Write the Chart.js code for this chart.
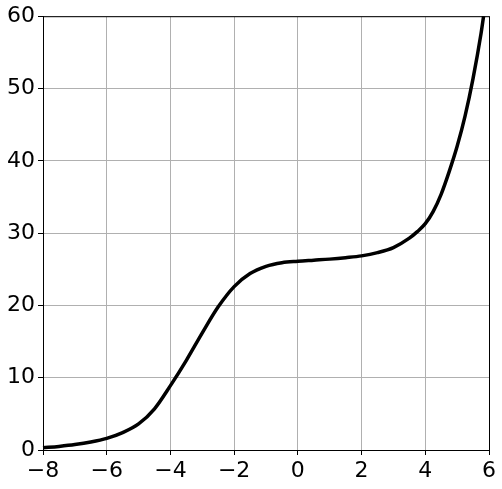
<!DOCTYPE html>
<html>
<head>
<meta charset="utf-8">
<script src="https://cdn.jsdelivr.net/npm/chart.js@4/dist/chart.umd.min.js"></script>
<style>
  html, body { margin: 0; padding: 0; background: #fff; }
  #wrap { width: 502px; height: 489px; }
</style>
</head>
<body>
<div id="wrap"><canvas id="curveChart" width="502" height="489"></canvas></div>
<script>
// values
const xValues = [-8, -7.5, -7, -6.5, -6, -5.5, -5, -4.5, -4, -3.5, -3, -2.5, -2, -1.5, -1, -0.5, 0, 0.5, 1, 1.5, 2, 2.5, 3, 3.5, 3.75, 4, 4.25, 4.5, 4.75, 5, 5.25, 5.5, 5.75, 5.83];
const yValues = [0.3, 0.5, 0.75, 1.1, 1.6, 2.4, 3.6, 5.7, 8.9, 12.4, 16.2, 19.8, 22.6, 24.4, 25.4, 25.9, 26.1, 26.25, 26.4, 26.6, 26.85, 27.3, 28.0, 29.3, 30.2, 31.3, 33.0, 35.4, 38.5, 42.0, 46.2, 51.4, 57.6, 60];
const xTicks = [-8, -6, -4, -2, 0, 2, 4, 6];
const yTicks = [0, 10, 20, 30, 40, 50, 60];

const points = xValues.map((x, i) => ({ x: x, y: yValues[i] }));
const tickFont = { family: 'DejaVu Sans', size: 22 };
const fmt = v => String(v).replace('-', '\u2212');

// matplotlib style full box around the plot area
const boxPlugin = {
    id: 'box',
    afterDraw(chart) {
        const a = chart.chartArea;
        const c = chart.ctx;
        c.save();
        c.strokeStyle = '#000';
        c.lineWidth = 1;
        c.strokeRect(a.left + 0.5, a.top + 0.5, a.right - a.left, a.bottom - a.top);
        c.restore();
    }
};

const ctx = document.getElementById('curveChart').getContext('2d');
const curveChart = new Chart(ctx, {
    type: 'line',
    data: {
        datasets: [{
            data: points,
            borderColor: '#000',
            borderWidth: 3.5,
            pointRadius: 0,
            fill: false,
            cubicInterpolationMode: 'monotone',
            clip: 2
        }]
    },
    options: {
        responsive: false,
        animation: false,
        layout: { padding: { top: 15, right: 13, left: 0, bottom: 0 } },
        plugins: { legend: { display: false }, tooltip: { enabled: false } },
        scales: {
            x: {
                type: 'linear',
                min: -8,
                max: 6,
                afterBuildTicks: s => { s.ticks = xTicks.map(v => ({ value: v })); },
                afterFit: s => { s.height = 39; },
                grid: { color: '#b0b0b0', lineWidth: 1, tickLength: 5, tickColor: '#000' },
                border: { color: '#000', width: 1 },
                ticks: { font: tickFont, color: '#000', padding: 3, maxRotation: 0, callback: fmt }
            },
            y: {
                min: 0,
                max: 60,
                afterBuildTicks: s => { s.ticks = yTicks.map(v => ({ value: v })); },
                afterFit: s => { s.width = 43; },
                grid: { color: '#b0b0b0', lineWidth: 1, tickLength: 5, tickColor: '#000' },
                border: { color: '#000', width: 1 },
                ticks: { font: tickFont, color: '#000', padding: 3, callback: fmt }
            }
        }
    },
    plugins: [boxPlugin]
});
</script>
</body>
</html>
